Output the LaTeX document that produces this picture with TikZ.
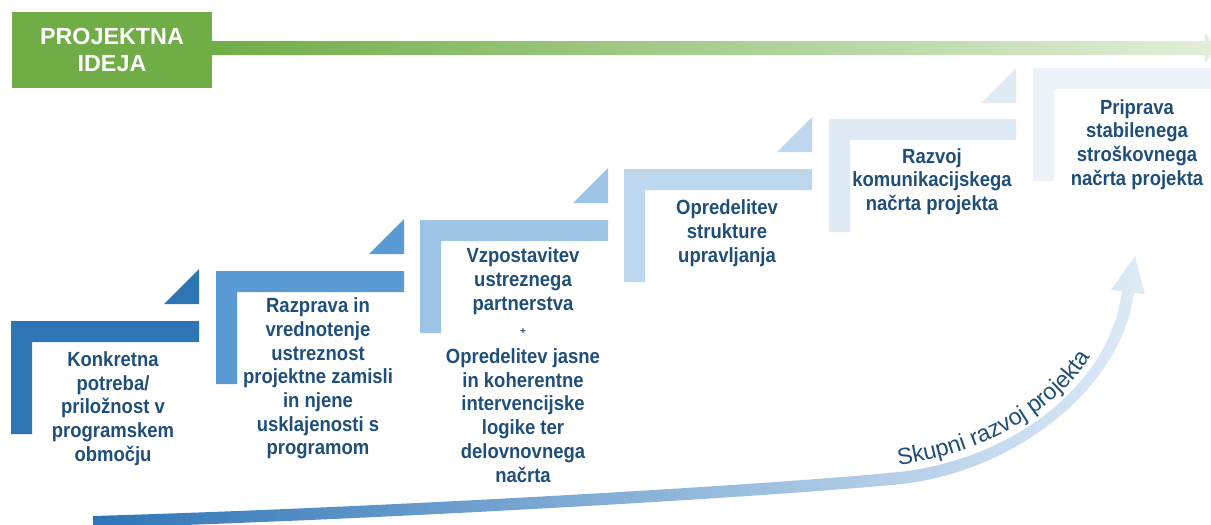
\documentclass[tikz,border=0pt]{standalone}
\usepackage{fontspec}
\setmainfont{Liberation Sans}
\newfontfamily\narrowsans{Liberation Sans}[FakeStretch=0.9]
\usetikzlibrary{decorations.text}

\definecolor{stepA}{RGB}{46,117,182}
\definecolor{stepB}{RGB}{91,155,213}
\definecolor{stepC}{RGB}{157,195,230}
\definecolor{stepD}{RGB}{189,215,238}
\definecolor{stepE}{RGB}{222,235,247}
\definecolor{stepF}{RGB}{236,242,249}
\definecolor{textblue}{RGB}{31,78,121}
\definecolor{ideagreen}{RGB}{112,173,71}
\definecolor{ideagreenlight}{RGB}{226,239,218}

\tikzset{every picture/.style={line width=0.75pt}}
\tikzset{
  steptext/.style={align=center, inner sep=0pt, text=textblue, font=\narrowsans\bfseries\fontsize{15.4}{17.8}\selectfont},
  ideatext/.style={align=center, inner sep=0pt, text=white, font=\bfseries\fontsize{17.5}{20.3}\selectfont},
}

\begin{document}
\begin{tikzpicture}[x=0.75pt,y=0.75pt,yscale=-1,xscale=1]
\useasboundingbox (0,0) rectangle (1211,525);

%Shape: Curved arrow (project development)
\shade[left color=stepA, right color=stepE] (93,516) .. controls (400,507) and (780,484) .. (899,472) .. controls (1008,460) and (1109,389) .. (1122,291.2) -- (1111,289.8) -- (1135,256) -- (1145,294.2) -- (1134,292.8) .. controls (1121,391) and (1012,472) .. (901,484) .. controls (780,496) and (400,519) .. (93,528) -- cycle ;
%Text along curve
\path [decorate, decoration={text along path, text color=textblue, raise=2pt, text={|\fontsize{17.5}{20}\selectfont|Skupni razvoj projekta}}] (899,468) .. controls (990,455) and (1065,410) .. (1097,350) ;

%Shape: Green arrow
\shade[left color=ideagreen, right color=ideagreenlight] (212,41) -- (1205,41) -- (1205,33) -- (1216,48) -- (1205,63) -- (1205,55) -- (212,55) -- cycle ;
%Shape: Rectangle
\fill[ideagreen] (12,12) rectangle (212,88) ;

%Shape: Bracket 1
\fill[stepA] (11,321) -- (199,321) -- (199,342) -- (32,342) -- (32,434) -- (11,434) -- cycle ;
\fill[stepA] (164,304) -- (199,304) -- (199,269) -- cycle ;
%Shape: Bracket 2
\fill[stepB] (216,271) -- (404,271) -- (404,292) -- (237,292) -- (237,384) -- (216,384) -- cycle ;
\fill[stepB] (369,254) -- (404,254) -- (404,219) -- cycle ;
%Shape: Bracket 3
\fill[stepC] (420,220) -- (608,220) -- (608,241) -- (441,241) -- (441,333) -- (420,333) -- cycle ;
\fill[stepC] (573,203) -- (608,203) -- (608,168) -- cycle ;
%Shape: Bracket 4
\fill[stepD] (624,169) -- (812,169) -- (812,190) -- (645,190) -- (645,282) -- (624,282) -- cycle ;
\fill[stepD] (777,152) -- (812,152) -- (812,117) -- cycle ;
%Shape: Bracket 5
\fill[stepE] (829,119) -- (1016,119) -- (1016,140) -- (850,140) -- (850,232) -- (829,232) -- cycle ;
\fill[stepE] (981,103) -- (1016,103) -- (1016,68) -- cycle ;
%Shape: Bracket 6
\fill[stepF] (1033,68) -- (1221,68) -- (1221,89) -- (1054,89) -- (1054,181) -- (1033,181) -- cycle ;

% Text Node
\node[ideatext] (idea) at (112,49.5) {PROJEKTNA\\IDEJA};
% Text Node
\node[steptext] (stepA) at (113,408.5) {Konkretna\\potreba/\\priložnost v\\programskem\\območju};
% Text Node
\node[steptext] (stepB) at (318,378.5) {Razprava in\\vrednotenje\\ustreznost\\projektne zamisli\\in njene\\usklajenosti s\\programom};
% Text Node
\node[steptext] (stepC) at (523,281) {Vzpostavitev\\ustreznega\\partnerstva};
% Text Node
\node[steptext, font=\bfseries\fontsize{7.5}{9}\selectfont] (plus) at (523,332) {+};
% Text Node
\node[steptext] (stepCb) at (523,415.5) {Opredelitev jasne\\in koherentne\\intervencijske\\logike ter\\delovnovnega\\načrta};
% Text Node
\node[steptext] (stepD) at (727,233) {Opredelitev\\strukture\\upravljanja};
% Text Node
\node[steptext] (stepE) at (932,181.5) {Razvoj\\komunikacijskega\\načrta projekta};
% Text Node
\node[steptext] (stepF) at (1137,144.5) {Priprava\\stabilenega\\stroškovnega\\načrta projekta};

\end{tikzpicture}
\end{document}
